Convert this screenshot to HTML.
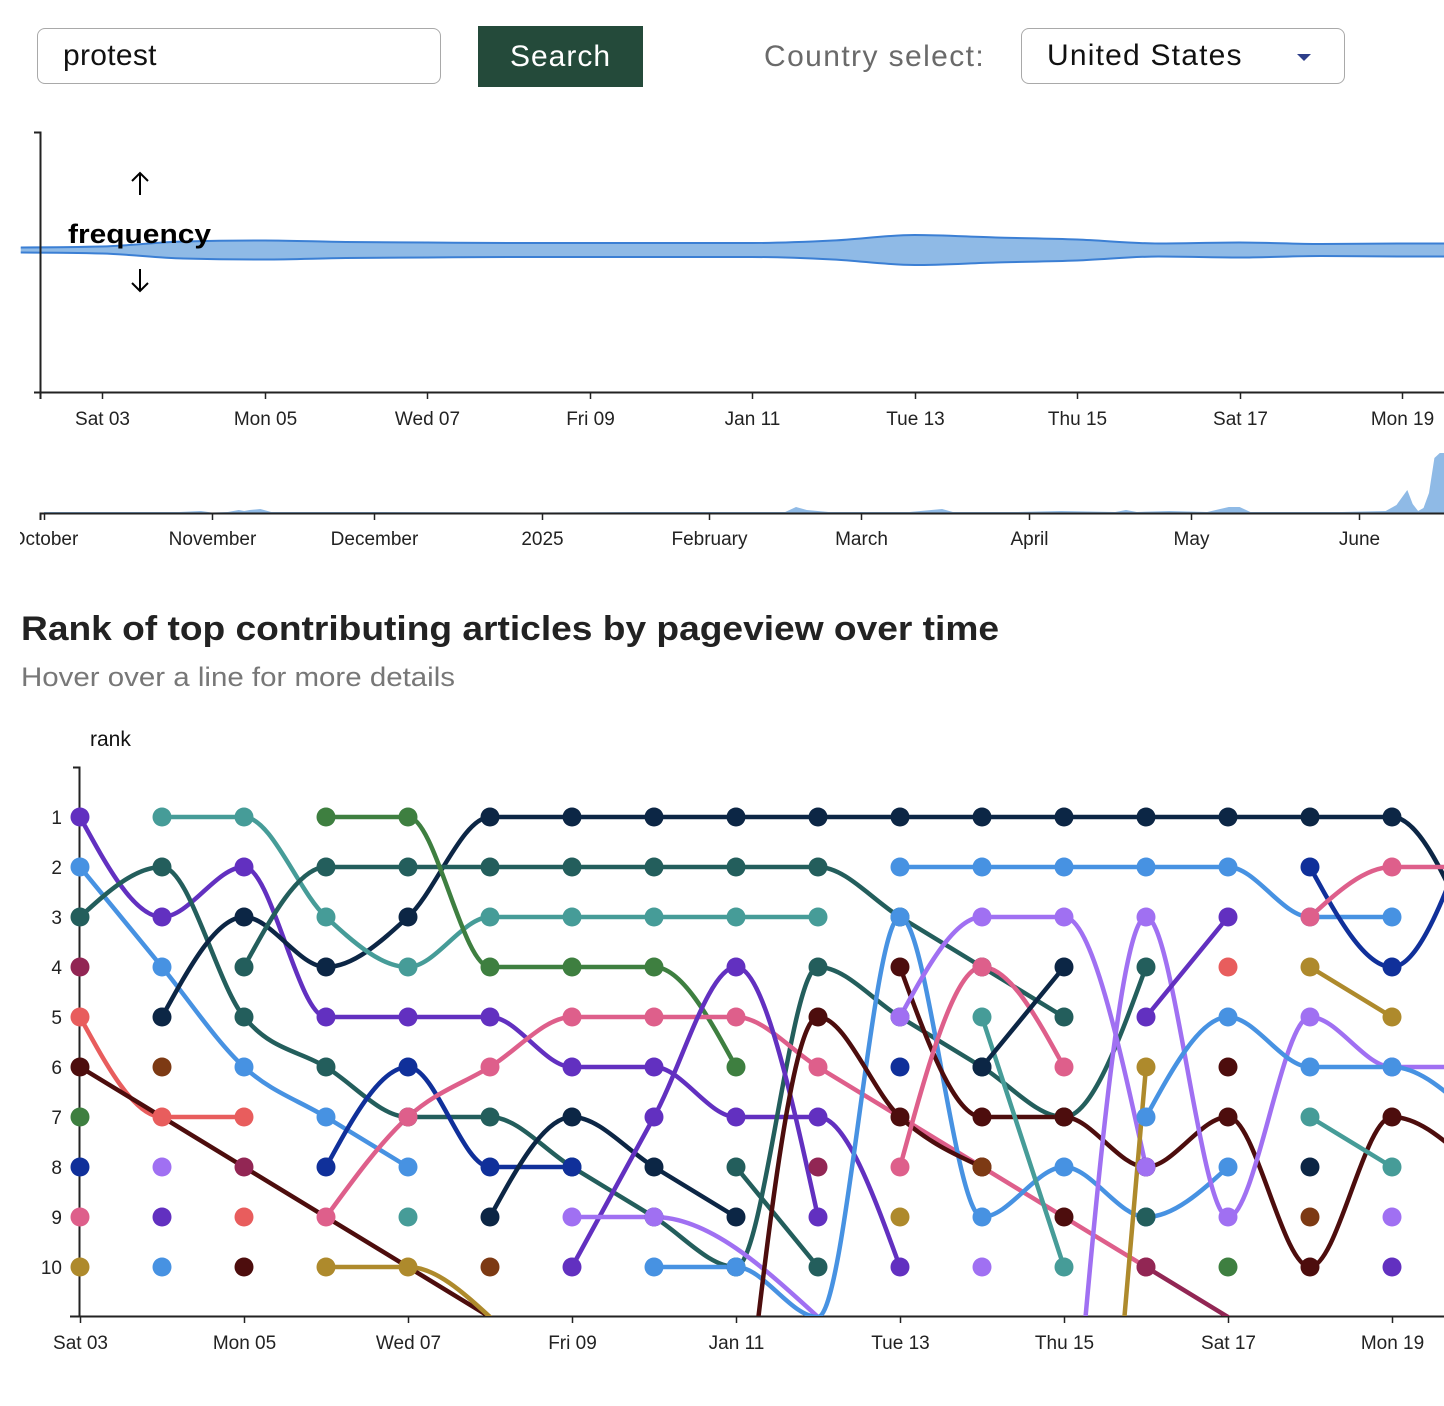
<!DOCTYPE html>
<html><head><meta charset="utf-8">
<style>
html,body{margin:0;padding:0;background:#fff;}
html{overflow:hidden;width:1444px;height:1406px;}
body{width:1444px;height:1406px;position:relative;overflow:hidden;font-family:"Liberation Sans",Arial,sans-serif;}
.abs{position:absolute;box-sizing:border-box;overflow:hidden;white-space:nowrap;}
#search-input{left:37px;top:28px;width:404px;height:56px;border:1.5px solid #a9a9a9;border-radius:8px;font-size:30px;line-height:53px;padding-left:25px;color:#111;letter-spacing:0.3px;}
#search-button{left:478px;top:26px;width:165px;height:61px;background:#244a3a;color:#fff;font-size:30px;line-height:61px;text-align:center;letter-spacing:1px;}
#country-label{left:764px;top:38px;font-size:30px;color:#6a6a6a;line-height:38px;letter-spacing:1.4px;}
#country-select{left:1021px;top:28px;width:324px;height:56px;border:1.5px solid #a9a9a9;border-radius:8px;font-size:30px;line-height:53px;padding-left:25px;color:#111;letter-spacing:1.2px;}
#caret{left:1297px;top:54px;width:0;height:0;border-left:7px solid transparent;border-right:7px solid transparent;border-top:7px solid #2d3e8a;}
svg{position:absolute;left:0;top:0;}
</style></head>
<body>
<div class="abs" id="search-input">protest</div>
<div class="abs" id="search-button">Search</div>
<div class="abs" id="country-label">Country select:</div>
<div class="abs" id="country-select">United States</div>
<div class="abs" id="caret"></div>

<svg id="chart" width="1444" height="1406" xmlns="http://www.w3.org/2000/svg" font-family="Liberation Sans, Arial, sans-serif">
<defs>
<clipPath id="rankClip"><rect x="79" y="767" width="1365" height="549"/></clipPath>
<clipPath id="brushClip"><rect x="20" y="440" width="1424" height="120"/></clipPath>
</defs>
<g id="stream-g"></g>
<g id="brush-g" clip-path="url(#brushClip)"></g>
<g id="rank-g"></g>
<text x="21" y="640" font-size="34" font-weight="bold" fill="#222" textLength="978" lengthAdjust="spacingAndGlyphs">Rank of top contributing articles by pageview over time</text>
<text x="21" y="686" font-size="27" fill="#777" textLength="434" lengthAdjust="spacingAndGlyphs">Hover over a line for more details</text>
<text x="90" y="746" font-size="21" fill="#111">rank</text>
</svg>

<script>
// ---------- stream chart data ----------
const streamDays = [-1,0,1,2,3,4,5,6,7,8,9,10,11,12,13,14,15,16,17];
const streamValues = [5,7,17,19,16,15,14,14,14,14,19,30,25,21,13,15,12,13,13];
const streamTickLabels = ["Sat 03","Mon 05","Wed 07","Fri 09","Jan 11","Tue 13","Thu 15","Sat 17","Mon 19"];
const streamTickDays = [0,2,4,6,8,10,12,14,16];

// ---------- brush data ----------
const brushDays = [0,10,25,29,31,34,36,37,38,40,42,60,90,110,130,137,139,141,145,160,166,168,180,188,198,200,202,208,215,219,221,223,240,248,250,252,253,254,255,256,257,258,259];
const brushValues = [1,1,1,2,0.5,1,3,2,3,4,1,1,0.5,1,1,1,6,3,1,1,4,1,1,2,1,3,1,2,1,6,6,1,1,2,8,23,9,2,5,20,55,60,60];
const brushTickLabels = ["October","November","December","2025","February","March","April","May","June"];
const brushTickDays = [0,31,61,92,123,151,182,212,243];

// ---------- rank chart data ----------
const rankTickLabels = ["Sat 03","Mon 05","Wed 07","Fri 09","Jan 11","Tue 13","Thu 15","Sat 17","Mon 19"];
const rankTickDays = [0,2,4,6,8,10,12,14,16];
const rankLevels = [1,2,3,4,5,6,7,8,9,10];
const _ = null;
const seriesColors = [
 "#6230c0","#4792e2","#235e5c","#0c2645","#469c98","#235e5c","#3e7f40","#e85d5d","#10309a","#de5f8b",
 "#4d0d0d","#ae8a2c","#0c2645","#6230c0","#a070f2","#4792e2","#235e5c","#4d0d0d","#4d0d0d","#de5f8b",
 "#a070f2","#a070f2","#ae8a2c","#4792e2","#469c98","#0c2645","#6230c0","#4792e2","#10309a","#de5f8b",
 "#ae8a2c","#469c98","#922654"];
const seriesRanks = [
 [1,3,2,5,5,5,6,6,7,7,10,_,_,_,_,_,_,_],
 [2,4,6,7,8,_,_,_,_,_,_,_,_,_,_,_,_,_],
 [3,2,5,6,7,7,8,9,10,4,5,6,7,4,_,_,_,_],
 [_,5,3,4,3,1,1,1,1,1,1,1,1,1,1,1,1,3.5],
 [_,1,1,3,4,3,3,3,3,3,_,_,_,_,_,_,_,_],
 [_,_,4,2,2,2,2,2,2,2,3,4,5,_,_,_,_,_],
 [_,_,_,1,1,4,4,4,6,_,_,_,_,_,_,_,_,_],
 [5,7,7,_,_,_,_,_,_,_,_,_,_,_,_,_,_,_],
 [_,_,_,8,6,8,8,_,_,_,_,_,_,_,_,_,_,_],
 [_,_,_,9,7,6,5,5,5,6,_,_,_,10,_,_,_,_],
 [6,_,_,_,_,11,_,_,_,_,_,_,_,_,_,_,_,_],
 [_,_,_,10,10,11,_,_,_,_,_,_,_,_,_,_,_,_],
 [_,_,_,_,_,9,7,8,9,_,_,_,_,_,_,_,_,_],
 [_,_,_,_,_,_,10,7,4,9,_,_,_,_,_,_,_,_],
 [_,_,_,_,_,_,9,9,_,11,_,_,_,_,_,_,_,_],
 [_,_,_,_,_,_,_,10,10,11,3,9,8,9,8,_,_,_],
 [_,_,_,_,_,_,_,_,8,10,_,_,_,_,_,_,_,_],
 [_,_,_,_,_,_,_,_,15,5,7,8,_,_,_,_,_,_],
 [_,_,_,_,_,_,_,_,_,_,4,7,7,8,7,10,7,8],
 [_,_,_,_,_,_,_,_,_,_,8,4,6,_,_,_,_,_],
 [_,_,_,_,_,_,_,_,_,_,5,3,3,8,_,_,_,_],
 [_,_,_,_,_,_,_,_,_,_,_,_,16,3,9,5,6,6],
 [_,_,_,_,_,_,_,_,_,_,_,_,25,6,_,_,_,_],
 [_,_,_,_,_,_,_,_,_,_,2,2,2,2,2,3,3,_],
 [_,_,_,_,_,_,_,_,_,_,_,5,10,_,_,_,_,_],
 [_,_,_,_,_,_,_,_,_,_,_,6,4,_,_,_,_,_],
 [_,_,_,_,_,_,_,_,_,_,_,_,_,5,3,_,_,_],
 [_,_,_,_,_,_,_,_,_,_,_,_,_,7,5,6,6,7],
 [_,_,_,_,_,_,_,_,_,_,_,_,_,_,_,2,4,1],
 [_,_,_,_,_,_,_,_,_,_,_,_,_,_,_,3,2,2],
 [_,_,_,_,_,_,_,_,_,_,_,_,_,_,_,4,5,_],
 [_,_,_,_,_,_,_,_,_,_,_,_,_,_,_,7,8,_],
 [_,_,_,_,_,_,_,_,_,_,_,_,_,10,11,_,_,_]
];
const soloDays =   [0,0,0,0,0,1,1,1,1,2,2,2,4,5,9,10,10,11,11,12,13,14,14,14,15,15,16,16];
const soloRanks =  [4,7,8,9,10,6,8,9,10,8,9,10,9,10,8,6,9,8,10,9,9,4,6,10,8,9,9,10];
const soloColors = ["#922654","#3e7f40","#10309a","#de5f8b","#ae8a2c","#7d3a14","#a070f2","#6230c0","#4792e2","#922654","#e85d5d","#4d0d0d","#469c98","#7d3a14","#922654","#10309a","#ae8a2c","#7d3a14","#a070f2","#4d0d0d","#235e5c","#e85d5d","#4d0d0d","#3e7f40","#0c2645","#7d3a14","#a070f2","#6230c0"];

const NS = "http://www.w3.org/2000/svg";
function mk(tag, attrs, parent){const e=document.createElementNS(NS,tag);for(const k in attrs)e.setAttribute(k,attrs[k]);parent.appendChild(e);return e;}

function slope3(x0,y0,x1,y1,x2,y2){const h0=x1-x0,h1=x2-x1,s0=(y1-y0)/h0,s1=(y2-y1)/h1,p=(s0*h1+s1*h0)/(h0+h1);return (Math.sign(s0)+Math.sign(s1))*Math.min(Math.abs(s0),Math.abs(s1),0.5*Math.abs(p))||0;}
function monoSegs(pts){
  const n=pts.length; if(n<2) return [];
  if(n===2) return [[pts[0][0],pts[0][1],pts[0][0],pts[0][1],pts[1][0],pts[1][1],pts[1][0],pts[1][1]]];
  const t=new Array(n);
  for(let i=1;i<n-1;i++) t[i]=slope3(pts[i-1][0],pts[i-1][1],pts[i][0],pts[i][1],pts[i+1][0],pts[i+1][1]);
  let h=pts[1][0]-pts[0][0]; t[0]=(3*(pts[1][1]-pts[0][1])/h-t[1])/2;
  h=pts[n-1][0]-pts[n-2][0]; t[n-1]=(3*(pts[n-1][1]-pts[n-2][1])/h-t[n-2])/2;
  const segs=[];
  for(let i=0;i<n-1;i++){const [x0,y0]=pts[i],[x1,y1]=pts[i+1];const dx=(x1-x0)/3;
    segs.push([x0,y0,x0+dx,y0+dx*t[i],x1-dx,y1-dx*t[i+1],x1,y1]);}
  return segs;
}
function segsToPath(segs){if(!segs.length)return "";let d="M"+segs[0][0]+","+segs[0][1];for(const s of segs)d+=" C"+s[2]+","+s[3]+" "+s[4]+","+s[5]+" "+s[6]+","+s[7];return d;}

// ---------- stream chart ----------
(function(){
  const g=document.getElementById("stream-g");
  const xS=d=>102+81.25*d; const cy=250; const wS=v=>v*1.0;
  const top=streamDays.map((d,i)=>[xS(d),cy-wS(streamValues[i])/2]);
  const bot=streamDays.map((d,i)=>[xS(d),cy+wS(streamValues[i])/2]);
  const ts=monoSegs(top), bs=monoSegs(bot);
  let d=segsToPath(ts);
  d+=" L"+bot[bot.length-1][0]+","+bot[bot.length-1][1];
  for(let i=bs.length-1;i>=0;i--){const s=bs[i];d+=" C"+s[4]+","+s[5]+" "+s[2]+","+s[3]+" "+s[0]+","+s[1];}
  d+=" Z";
  const area=mk("path",{d:d,fill:"#8fbae6",stroke:"none"},g);
  
  
  const tl=mk("path",{d:segsToPath(ts),fill:"none",stroke:"#3b7fd4","stroke-width":2},g);
  
  
  const bl=mk("path",{d:segsToPath(bs),fill:"none",stroke:"#3b7fd4","stroke-width":2},g);
  
  
  const ya=mk("path",{d:"M34,132.5 H40.5 V392.5 H34",fill:"none",stroke:"#222","stroke-width":2},g);
  
  
  const xa=mk("path",{d:"M40.5,399 V392.5 H1444",fill:"none",stroke:"#222","stroke-width":2},g);
  
  
  streamTickDays.forEach((dd,i)=>{
    const x=Math.round(xS(dd))+0.5;
    const tk=mk("line",{x1:x,x2:x,y1:392,y2:399,stroke:"#222","stroke-width":1.5},g);
    
    
    const t=mk("text",{x:x,y:425,"font-size":19,"text-anchor":"middle",fill:"#222"},g);
    t.textContent=streamTickLabels[i];
    
    
  });
  const fl=mk("text",{x:68,y:243,"font-size":27,"font-weight":"bold",fill:"#000",textLength:143,lengthAdjust:"spacingAndGlyphs"},g);
  fl.textContent="frequency";
  
  
  const au=mk("path",{d:"M140,195 V173 M132,181 L140,173 L148,181",fill:"none",stroke:"#000","stroke-width":2},g);
  
  
  const ad=mk("path",{d:"M140,269 V291 M132,283 L140,291 L148,283",fill:"none",stroke:"#000","stroke-width":2},g);
  
  
})();

// ---------- brush chart ----------
(function(){
  const g=document.getElementById("brush-g");
  const xS=d=>44+5.41*d; const base=513; const yS=v=>base-v;
  let d="M"+xS(brushDays[0])+","+base;
  brushDays.forEach((dd,i)=>{d+=" L"+xS(dd).toFixed(1)+","+yS(brushValues[i]).toFixed(1);});
  d+=" L"+xS(brushDays[brushDays.length-1])+","+base+" Z";
  const a=mk("path",{d:d,fill:"#8fbae6",stroke:"none"},g);
  
  
  const ax=mk("path",{d:"M40.5,520 V513.5 H1444",fill:"none",stroke:"#222","stroke-width":2},g);
  
  
  brushTickDays.forEach((dd,i)=>{
    const x=Math.round(xS(dd))+0.5;
    const tk=mk("line",{x1:x,x2:x,y1:513,y2:520,stroke:"#222","stroke-width":1.5},g);
    
    
    const t=mk("text",{x:x,y:545,"font-size":19,"text-anchor":"middle",fill:"#222"},g);
    t.textContent=brushTickLabels[i];
    
    
  });
})();

// ---------- rank chart ----------
(function(){
  const g=document.getElementById("rank-g");
  const xS=d=>80+82*d; const yS=r=>817+(r-1)*50;
  const ya=mk("path",{d:"M73,767.5 H79.5 V1316.5",fill:"none",stroke:"#222","stroke-width":2},g);
  
  
  const xa=mk("path",{d:"M70,1316.5 H1444",fill:"none",stroke:"#222","stroke-width":2},g);
  
  
  rankLevels.forEach(r=>{
    const y=yS(r);
    const tk=mk("line",{x1:73,x2:79,y1:y,y2:y,stroke:"#222","stroke-width":1.5},g);
    
    
    const t=mk("text",{x:62,y:y+7,"font-size":19,"text-anchor":"end",fill:"#222"},g);
    t.textContent=String(r);
    
    
  });
  rankTickDays.forEach((dd,i)=>{
    const x=xS(dd)+0.5;
    const tk=mk("line",{x1:x,x2:x,y1:1316,y2:1323,stroke:"#222","stroke-width":1.5},g);
    
    
    const t=mk("text",{x:x,y:1349,"font-size":19,"text-anchor":"middle",fill:"#222"},g);
    t.textContent=rankTickLabels[i];
    
    
  });
  const lg=mk("g",{"clip-path":"url(#rankClip)"},g);
  const dg=mk("g",{},g);
  seriesRanks.forEach((ranks,si)=>{
    const pts=[];
    ranks.forEach((r,d)=>{if(r!==null)pts.push([xS(d),yS(r)]);});
    if(pts.length>1){
      const p=mk("path",{d:segsToPath(monoSegs(pts)),fill:"none",stroke:seriesColors[si],"stroke-width":4.5,"stroke-linecap":"round"},lg);
      
      
    }
  });
  seriesRanks.forEach((ranks,si)=>{
    ranks.forEach((r,d)=>{
      if(r!==null && r<=10 && d<=16){
        const c=mk("circle",{cx:xS(d),cy:yS(r),r:9.5,fill:seriesColors[si]},dg);
        
        
      }
    });
  });
  soloDays.forEach((d,i)=>{
    const c=mk("circle",{cx:xS(d),cy:yS(soloRanks[i]),r:9.5,fill:soloColors[i]},dg);
    
    
  });
})();
</script>
</body></html>
